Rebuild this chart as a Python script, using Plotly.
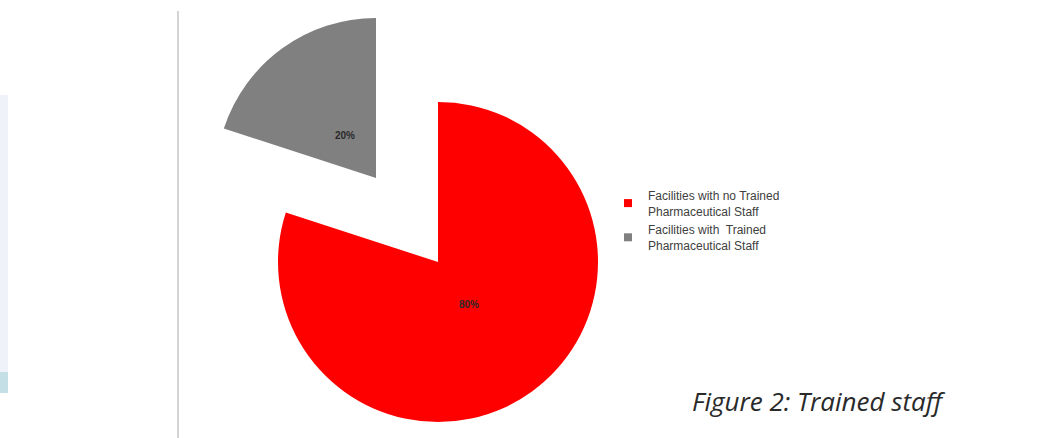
import math
import plotly.graph_objects as go

labels = ["Facilities with no Trained Pharmaceutical Staff",
          "Facilities with  Trained Pharmaceutical Staff"]
legend_labels = ["Facilities with no Trained<br>Pharmaceutical Staff",
                 "Facilities with  Trained<br>Pharmaceutical Staff"]
values = [80, 20]
colors = ["#ff0000", "#808080"]
caption = "Figure 2: Trained staff"

W, H = 1041, 438
total = sum(values)
pct = [f"{v / total * 100:.0f}%" for v in values]

# pixel geometry of the two pies (main + exploded)
R = 160
centers = [(438, 262), (376, 178)]
LABEL_FRAC = 0.33

def px_dom(cx, cy):
    return dict(x=[(cx - R) / W, (cx + R) / W], y=[1 - (cy + R) / H, 1 - (cy - R) / H])

fig = go.Figure()
annotations = []
for i, (cx, cy) in enumerate(centers):
    cols = ["rgba(0,0,0,0)"] * len(values)
    cols[i] = colors[i]
    fig.add_trace(go.Pie(
        labels=labels, values=values, sort=False, direction="clockwise", rotation=0,
        marker=dict(colors=cols), textinfo="none",
        domain=px_dom(cx, cy), showlegend=False, hoverinfo="skip",
    ))
    # slice label on bisector
    start = sum(values[:i]) / total * 360
    mid = math.radians(start + values[i] / total * 180)
    lx = cx + LABEL_FRAC * R * math.sin(mid)
    ly = cy - LABEL_FRAC * R * math.cos(mid)
    annotations.append(dict(text=f"<b>{pct[i]}</b>", xref="paper", yref="paper",
                            x=lx / W, y=1 - ly / H,
                            showarrow=False, xanchor="center", yanchor="middle",
                            font=dict(size=10, color="#2a2a2a", family="Liberation Sans Narrow, Liberation Sans")))

# legend entries
for lab, col in zip(legend_labels, colors):
    fig.add_trace(go.Scatter(x=[None], y=[None], mode="markers", name=lab,
                             marker=dict(symbol="square", size=8, color=col)))

annotations.append(dict(text=caption, xref="paper", yref="paper", x=948 / W, y=1 - 401 / H,
                        xanchor="right", yanchor="middle", showarrow=False,
                        font=dict(size=26, color="#2a2a2a", family="Open Sans", style="italic")))

fig.update_layout(
    width=W, height=H, margin=dict(l=0, r=0, t=0, b=0),
    paper_bgcolor="white", plot_bgcolor="white",
    xaxis=dict(visible=False), yaxis=dict(visible=False),
    legend=dict(x=608 / W, y=1 - 181 / H, xanchor="left", yanchor="top",
                font=dict(size=12, color="#404040", family="Liberation Sans"),
                tracegroupgap=0, bgcolor="rgba(0,0,0,0)"),
    shapes=[
        dict(type="line", xref="paper", yref="paper", x0=178 / W, x1=178 / W,
             y0=0, y1=1 - 11 / H, line=dict(color="#d4d4d4", width=2)),
        dict(type="rect", xref="paper", yref="paper", x0=0, x1=8 / W,
             y0=1 - 393 / H, y1=1 - 95 / H, fillcolor="#f0f2f9", line=dict(width=0)),
        dict(type="rect", xref="paper", yref="paper", x0=0, x1=8 / W,
             y0=1 - 393 / H, y1=1 - 372 / H, fillcolor="#c4dfe6", line=dict(width=0)),
    ],
    annotations=annotations,
)

fig.write_html("out.html", post_script="document.body.style.margin='0';",
               config={"displayModeBar": False})
